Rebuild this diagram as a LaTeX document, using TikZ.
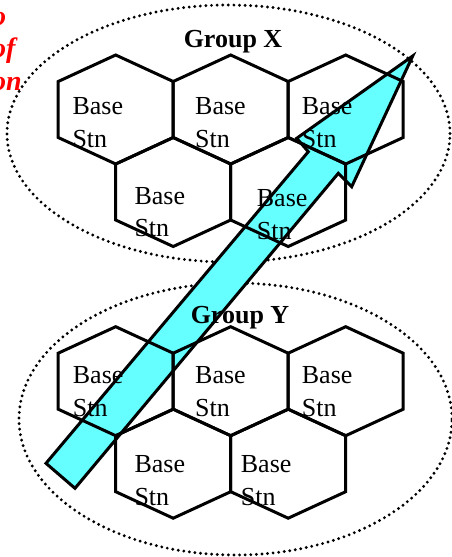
\documentclass[tikz,border=0pt]{standalone}
\usepackage{fontspec}
\setmainfont{Liberation Serif}
\usetikzlibrary{shapes.geometric}
\definecolor{arrowcyan}{RGB}{102,255,255}

\begin{document}
\begin{tikzpicture}[x=1pt, y=-1pt,
  hexcell/.style={draw, line width=3pt, line join=miter},
  stnlabel/.style={anchor=north west, inner sep=0pt, align=left,
    font=\fontsize{26}{32.5}\selectfont},
  grouptitle/.style={anchor=base, inner sep=0pt,
    font=\fontsize{26}{31}\selectfont\bfseries},
  groupring/.style={draw, ellipse, line width=3.2pt, line cap=round,
    dash pattern=on 0pt off 5.6pt, inner sep=0pt},
  movearrow/.style={draw, line width=3pt, line join=miter, fill=arrowcyan},
  motiontag/.style={anchor=north west, inner sep=0pt, align=left, text=red,
    font=\fontsize{28}{32.5}\selectfont\bfseries\itshape},
]
\useasboundingbox (0,0) rectangle (451,557);

% -- group rings ---------------------------------------------------------
\node[groupring, minimum width=443pt, minimum height=257pt] (ringX) at (228.5,133.5) {};
\node[groupring, minimum width=433pt, minimum height=272pt] (ringY) at (235.5,419) {};

% -- direction of travel -------------------------------------------------
\draw[movearrow] (46,463.3) -- (308.3,151.7) -- (296.7,138.3) -- (412.7,56)
  -- (351.7,186.7) -- (338.3,173.3) -- (75,488.3) -- cycle;

% -- cells ---------------------------------------------------------------
\foreach \cx/\cy in {115.7/109.5, 230.7/109.5, 345.7/109.5, 173.2/192, 288.2/192,
                     115.7/381.2, 230.7/381.2, 345.7/381.2, 173.2/463.7, 288.2/463.7}
  \draw[hexcell] (\cx,\cy) ++(0,-54.5) -- ++(57.5,26.5) -- ++(0,56)
    -- ++(-57.5,26.5) -- ++(-57.5,-26.5) -- ++(0,-56) -- cycle;

% -- Group X labels --------------------------------------------------------
\node[stnlabel] (x1) at (72.3,97.3)  {Base\\Stn};
\node[stnlabel] (x2) at (195,97.3)   {Base\\Stn};
\node[stnlabel] (x3) at (301.7,97.3) {Base\\Stn};
\node[stnlabel] (x4) at (134.3,187)  {Base\\Stn};
\node[stnlabel] (x5) at (256.7,189.7) {Base\\Stn};
\node[grouptitle] (gx) at (233,47.7) {Group X};

% -- Group Y labels --------------------------------------------------------
\node[stnlabel] (y1) at (72.7,366.3)  {Base\\Stn};
\node[stnlabel] (y2) at (195,366.3)   {Base\\Stn};
\node[stnlabel] (y3) at (301.7,366.3) {Base\\Stn};
\node[stnlabel] (y4) at (134.3,455.7) {Base\\Stn};
\node[stnlabel] (y5) at (240.7,455.7) {Base\\Stn};
\node[grouptitle] (gy) at (240,323.3) {Group Y};

% -- cut-off caption -----------------------------------------------------
\node[motiontag] (tag) at (-8,12) {o\\of\\on};

\end{tikzpicture}
\end{document}
